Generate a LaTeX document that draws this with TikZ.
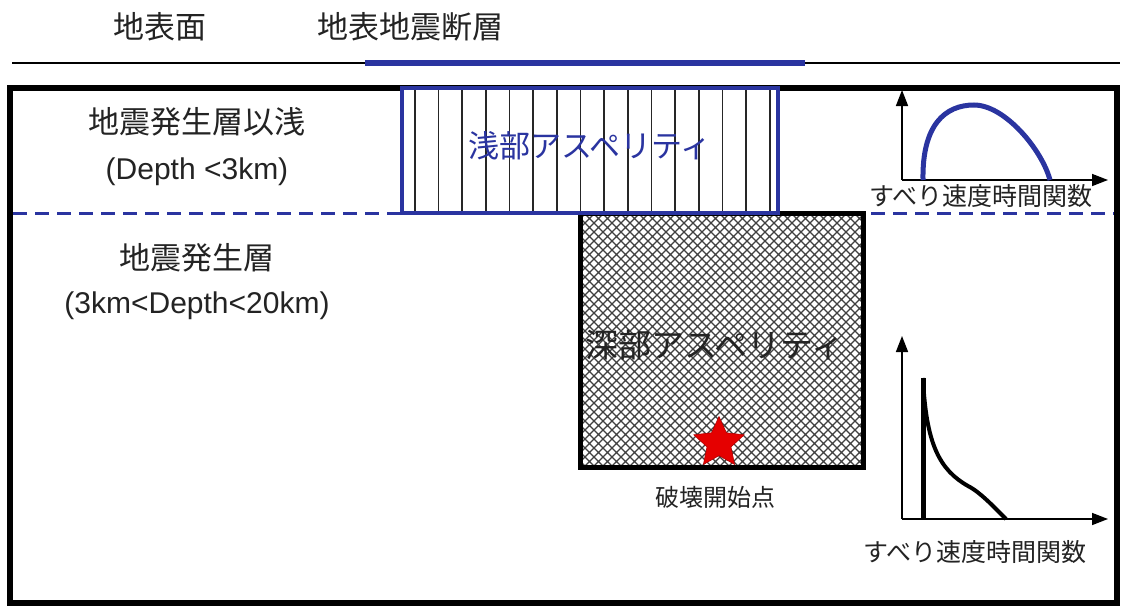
\documentclass[tikz,border=0pt]{standalone}
\usepackage{fontspec}
\setmainfont{Liberation Sans}
\newfontfamily\jp{Noto Sans CJK JP}
\usetikzlibrary{patterns,shapes.geometric,arrows.meta}
\definecolor{fblue}{RGB}{42,52,160}
\definecolor{txt}{RGB}{35,35,35}
\pgfdeclarepatternformonly{mycross}{\pgfqpoint{-1pt}{-1pt}}{\pgfqpoint{10pt}{10pt}}{\pgfqpoint{9pt}{9pt}}{%
  \pgfsetlinewidth{1.25pt}%
  \pgfpathmoveto{\pgfqpoint{0pt}{0pt}}\pgfpathlineto{\pgfqpoint{9pt}{9pt}}%
  \pgfpathmoveto{\pgfqpoint{0pt}{9pt}}\pgfpathlineto{\pgfqpoint{9pt}{0pt}}%
  \pgfusepath{stroke}}
\tikzset{
  lbl/.style={inner sep=0pt, text=txt, font=\fontsize{31}{36}\selectfont\jp},
  latlbl/.style={inner sep=0pt, text=txt, font=\fontsize{30}{34}\selectfont},
  smlbl/.style={inner sep=0pt, text=txt, font=\fontsize{24}{28}\selectfont\jp},
  axis/.style={line width=1.6pt, -{Triangle[length=16pt,width=12pt]}},
  hatchline/.style={line width=1.5pt, black!85},
}
\begin{document}
\begin{tikzpicture}[x=1pt,y=-1pt]
\useasboundingbox (0,0) rectangle (1122,610);
\fill[white] (0,0) rectangle (1122,610);

% top labels
\node[lbl] (surf) at (160,27) {地表面};
\node[lbl] (fault) at (410,27) {地表地震断層};

% surface line and surface fault
\coordinate (sL) at (12,63);
\coordinate (sR) at (1120,63);
\draw[line width=2.6pt] (sL) -- (sR);
\coordinate (fL) at (365,63);
\coordinate (fR) at (805,63);
\draw[fblue, line width=6pt] (fL) -- (fR);

% outer box
\node[draw, line width=6pt, inner sep=0pt, minimum width=1107pt, minimum height=515pt] (outer) at (563.5,345.5) {};

% dashed boundary
\coordinate (dL) at (13,213);
\coordinate (dR) at (1114,213);
\draw[fblue, line width=3pt, dash pattern=on 14pt off 8pt] (dL) -- (dR);

% deep asperity
\node[draw, line width=5pt, inner sep=0pt, minimum width=283pt, minimum height=254pt,
      pattern=mycross, pattern color=black!75] (deep) at (721.5,340) {};
\node[lbl, font=\fontsize{33}{38}\selectfont\jp] (deeplbl) at (715,345) {深部アスペリティ};
\node[star, star points=5, star point ratio=2.1, minimum size=53pt, inner sep=0pt,
      fill=red!90!black, draw=red!70!black, line width=0.6pt] (hypo) at (719,443) {};
\node[smlbl] (hypolbl) at (715,497) {破壊開始点};

% shallow asperity
\node[fill=white, inner sep=0pt, minimum width=376pt, minimum height=125pt] (shallow) at (590,150.5) {};
\foreach \i in {0,...,15}
  \draw[hatchline] ([xshift=13+\i*23.67]shallow.north west) -- ([xshift=13+\i*23.67]shallow.south west);
\draw[fblue, line width=4.5pt] (shallow.north west) rectangle (shallow.south east);
\node[lbl, text=fblue] (shlbl) at (590,146) {浅部アスペリティ};

% left labels
\node[lbl] (l1) at (197,122) {地震発生層以浅};
\node[latlbl] (l2) at (197,172) {(Depth <3km)};
\node[lbl] (l3) at (197,258) {地震発生層};
\node[latlbl] (l4) at (197,306) {(3km<Depth<20km)};

% upper slip velocity function
\coordinate (o1) at (902,180);
\coordinate (y1) at (902,90);
\coordinate (x1) at (1108,180);
\draw[axis] (o1) -- (y1);
\draw[axis] (o1) -- (x1);
\coordinate (c1a) at (923,180);
\coordinate (c1p) at (974,105);
\coordinate (c1b) at (1050,180);
\draw[fblue, line width=5pt] (c1a) .. controls (922,125) and (945,105) .. (c1p)
  .. controls (1005,105) and (1042,150) .. (c1b);
\node[smlbl, font=\fontsize{25}{30}\selectfont\jp] (sv1) at (981,196) {すべり速度時間関数};

% lower slip velocity function
\coordinate (o2) at (902,519);
\coordinate (y2) at (902,336);
\coordinate (x2) at (1108,519);
\draw[axis] (o2) -- (y2);
\draw[axis] (o2) -- (x2);
\coordinate (c2a) at (923,519);
\coordinate (c2t) at (923,378);
\coordinate (c2m) at (968,486);
\coordinate (c2b) at (1006,519);
\draw[line width=5pt] (c2a) -- (c2t);
\draw[line width=4pt] (c2t) .. controls (926,445) and (940,470) .. (c2m)
  .. controls (980,492) and (995,508) .. (c2b);
\node[smlbl, font=\fontsize{25}{30}\selectfont\jp] (sv2) at (975,552) {すべり速度時間関数};
\end{tikzpicture}
\end{document}
